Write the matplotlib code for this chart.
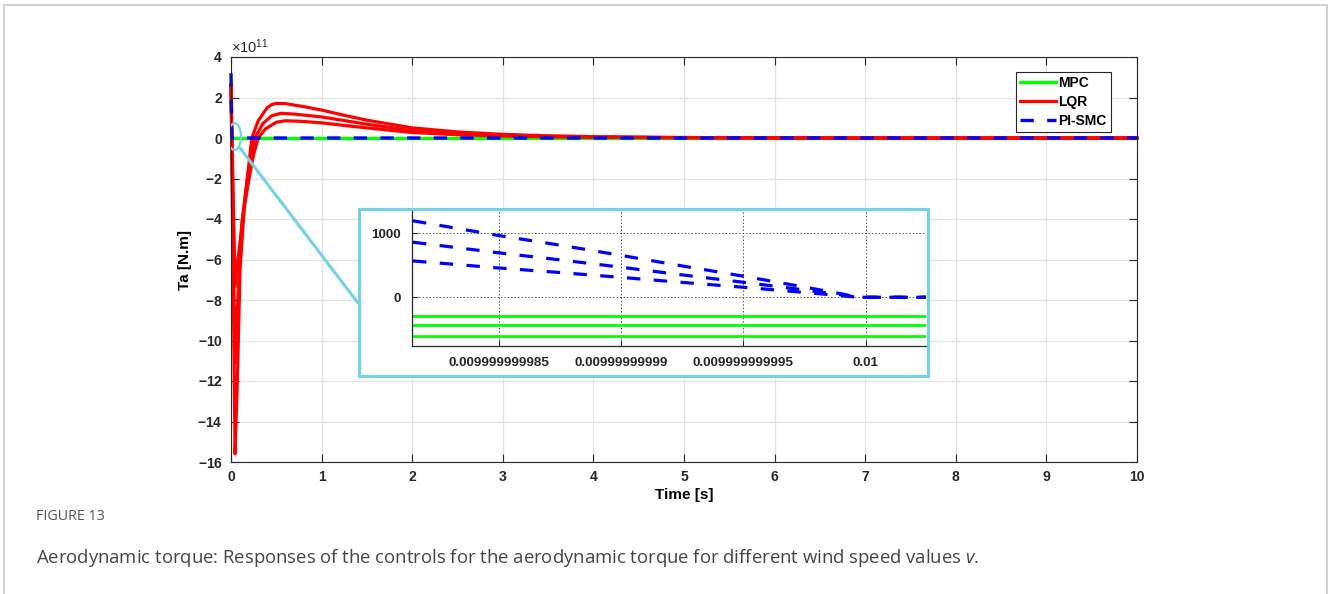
import matplotlib.pyplot as plt
from matplotlib.patches import Ellipse, Rectangle, ConnectionPatch
from matplotlib.ticker import ScalarFormatter, FixedLocator, FixedFormatter

plt.rcParams['font.family'] = ['Liberation Sans', 'DejaVu Sans']
plt.rcParams['mathtext.fontset'] = 'custom'
plt.rcParams['mathtext.rm'] = 'Liberation Sans'
plt.rcParams['mathtext.it'] = 'Open Sans:italic'
plt.rcParams['axes.unicode_minus'] = False

# values, torque in units of 1e11 N.m
SCALE = 1e11

t_mpc = [0, 10]
ta_mpc = [0, 0]

t_pismc = [0, 0.01, 10]
ta_pismc = [3.2, 0, 0]

t_lqr1 = [0, 0.045, 0.07, 0.1, 0.15, 0.2, 0.23, 0.3, 0.4, 0.45, 0.5, 0.6, 0.8, 1.0, 1.25,
          1.5, 2.0, 2.5, 3.0, 3.5, 4.0, 5.0, 6.0, 7.0, 10.0]
ta_lqr1 = [2.6, -15.6, -12.0, -6.5, -3.2, -1.2, 0.0, 0.85, 1.5, 1.65, 1.71, 1.7, 1.55, 1.38,
           1.12, 0.88, 0.5, 0.3, 0.18, 0.11, 0.065, 0.025, 0.008, 0.002, 0.0]

t_lqr2 = [0, 0.045, 0.08, 0.12, 0.18, 0.22, 0.265, 0.35, 0.45, 0.55, 0.7, 1.0, 1.25,
          1.5, 2.0, 2.5, 3.0, 3.5, 4.0, 5.0, 6.0, 7.0, 10.0]
ta_lqr2 = [2.6, -11.1, -7.5, -4.2, -2.0, -0.9, 0.0, 0.7, 1.1, 1.22, 1.18, 1.04, 0.86,
           0.68, 0.37, 0.22, 0.13, 0.08, 0.045, 0.017, 0.005, 0.001, 0.0]

t_lqr3 = [0, 0.045, 0.09, 0.14, 0.2, 0.25, 0.3, 0.38, 0.5, 0.6, 0.75, 1.0, 1.25,
          1.5, 2.0, 2.5, 3.0, 3.5, 4.0, 5.0, 6.0, 7.0, 10.0]
ta_lqr3 = [2.6, -7.3, -5.5, -3.6, -2.0, -0.8, 0.0, 0.45, 0.78, 0.85, 0.83, 0.75, 0.62,
           0.5, 0.27, 0.16, 0.095, 0.055, 0.032, 0.012, 0.004, 0.001, 0.0]

# zoomed window: time offset from 0.01 s in picoseconds, torque in N.m
zoom_t = [-18.5, -15, -12.5, -10, -7.5, -5, -2.5, -1, -0.3, 2.5]
zoom_pismc1 = [1195, 965, 815, 655, 490, 330, 160, 55, 0, 0]
zoom_pismc2 = [860, 695, 585, 470, 350, 235, 115, 40, 0, 0]
zoom_pismc3 = [568, 458, 387, 311, 233, 157, 76, 26, 0, 0]
zoom_t_mpc = [-18.54, 2.47]
zoom_mpc_levels = [-292, -433, -598]
zoom_xticks = [-15, -10, -5, 0]
zoom_xticklabels = ['0.009999999985', '0.00999999999', '0.009999999995', '0.01']

GREEN = '#00ff00'
RED = '#ff0000'
BLUE = '#0000ff'
CYAN = '#72d3e5'

fig = plt.figure(figsize=(13.28, 5.94), dpi=100)
ax = fig.add_axes([231 / 1328, 1 - 462 / 594, 906 / 1328, 405 / 594])

ax.plot(t_mpc, [v * SCALE for v in ta_mpc], color=GREEN, lw=2.4, label='MPC')
for t, v in [(t_lqr1, ta_lqr1), (t_lqr2, ta_lqr2), (t_lqr3, ta_lqr3)]:
    ax.plot(t, [x * SCALE for x in v], color=RED, lw=2.3, clip_on=False,
            label='LQR' if v is ta_lqr1 else None)
line, = ax.plot(t_pismc, [v * SCALE for v in ta_pismc], color=BLUE, lw=2.4,
                clip_on=False, label='PI-SMC')
line.set_dashes([4, 4])

ax.set_xlim(0, 10)
ax.set_ylim(-16 * SCALE, 4 * SCALE)
ax.set_xticks(range(0, 11))
ax.set_yticks([v * SCALE for v in range(-16, 5, 2)])
fmt = ScalarFormatter(useMathText=True)
fmt.set_powerlimits((11, 11))
ax.yaxis.set_major_formatter(fmt)
ax.yaxis.get_offset_text().set_fontsize(10.5)
ax.tick_params(direction='in', top=True, right=True, length=5.5, width=0.8,
               labelsize=10, pad=6, colors='#262626')
for lab in ax.get_xticklabels() + ax.get_yticklabels():
    lab.set_fontweight('bold')
for s in ax.spines.values():
    s.set_color('#262626')
    s.set_linewidth(0.8)
ax.grid(True, color='#e3e3e3', lw=0.9)
ax.set_axisbelow(True)
ax.set_xlabel('Time [s]', fontsize=11, fontweight='bold', labelpad=3)
ax.set_ylabel('Ta [N.m]', fontsize=11, fontweight='bold', labelpad=4)

leg = ax.legend(loc='upper right', bbox_to_anchor=(0.9713, 0.963), borderaxespad=0,
                prop={'weight': 'bold', 'size': 10}, handlelength=2.6,
                handletextpad=0.15, labelspacing=0.35, borderpad=0.3,
                fancybox=False, framealpha=1, edgecolor='#262626')
leg.get_frame().set_linewidth(0.8)

# zoom marker on the main plot
ax.add_patch(Ellipse((0.039, 0.07 * SCALE), 0.143, 1.33 * SCALE, fill=False,
                     ec=CYAN, lw=1.6, zorder=6))
con = ConnectionPatch(xyA=(0.099, -0.49 * SCALE), coordsA=ax.transData,
                      xyB=(358 / 1328, 1 - 303 / 594), coordsB=fig.transFigure,
                      color=CYAN, lw=2.2, zorder=6)
fig.add_artist(con)
fig.add_artist(Rectangle((359 / 1328, 1 - 376 / 594), 569 / 1328, 167 / 594,
                         transform=fig.transFigure, fc='white', ec=CYAN, lw=2.2,
                         zorder=7))

axin = fig.add_axes([412 / 1328, 1 - 346 / 594, 514 / 1328, 135 / 594])
axin.set_zorder(8)
for lvl in zoom_mpc_levels:
    axin.plot(zoom_t_mpc, [lvl, lvl], color=GREEN, lw=2.0)
for series in [zoom_pismc1, zoom_pismc2, zoom_pismc3]:
    ln, = axin.plot(zoom_t, series, color=BLUE, lw=2.3)
    ln.set_dashes([4.2, 4.2])
axin.set_xlim(-18.54, 2.47)
axin.set_ylim(-761, 1348)
axin.xaxis.set_major_locator(FixedLocator(zoom_xticks))
axin.xaxis.set_major_formatter(FixedFormatter(zoom_xticklabels))
axin.set_yticks([0, 1000])
axin.tick_params(direction='in', length=4, width=0.8, labelsize=9.7, pad=8,
                 colors='#262626')
for lab in axin.get_xticklabels() + axin.get_yticklabels():
    lab.set_fontweight('bold')
axin.spines['top'].set_visible(False)
axin.spines['right'].set_visible(False)
for s in ['left', 'bottom']:
    axin.spines[s].set_color('#262626')
    axin.spines[s].set_linewidth(0.9)
axin.grid(True, color='#555555', lw=0.7, ls=(0, (1.5, 2)))
axin.set_axisbelow(True)

# page frame and caption
fig.add_artist(Rectangle((4 / 1328, -0.05), 1322.5 / 1328, 1.05 - 5 / 594,
                         transform=fig.transFigure, fill=False, ec='#c8c8c8', lw=1.2))
fig.text(36 / 1328, 1 - 517 / 594, 'FIGURE 13', family='Open Sans', fontsize=10.3,
         color='#555555', va='center')
fig.text(36 / 1328, 1 - 558 / 594,
         'Aerodynamic torque: Responses of the controls for the aerodynamic torque '
         'for different wind speed values $v$.',
         family='Open Sans', fontsize=13.3, color='#444444', va='center')

fig.savefig('out.png', dpi=100)
